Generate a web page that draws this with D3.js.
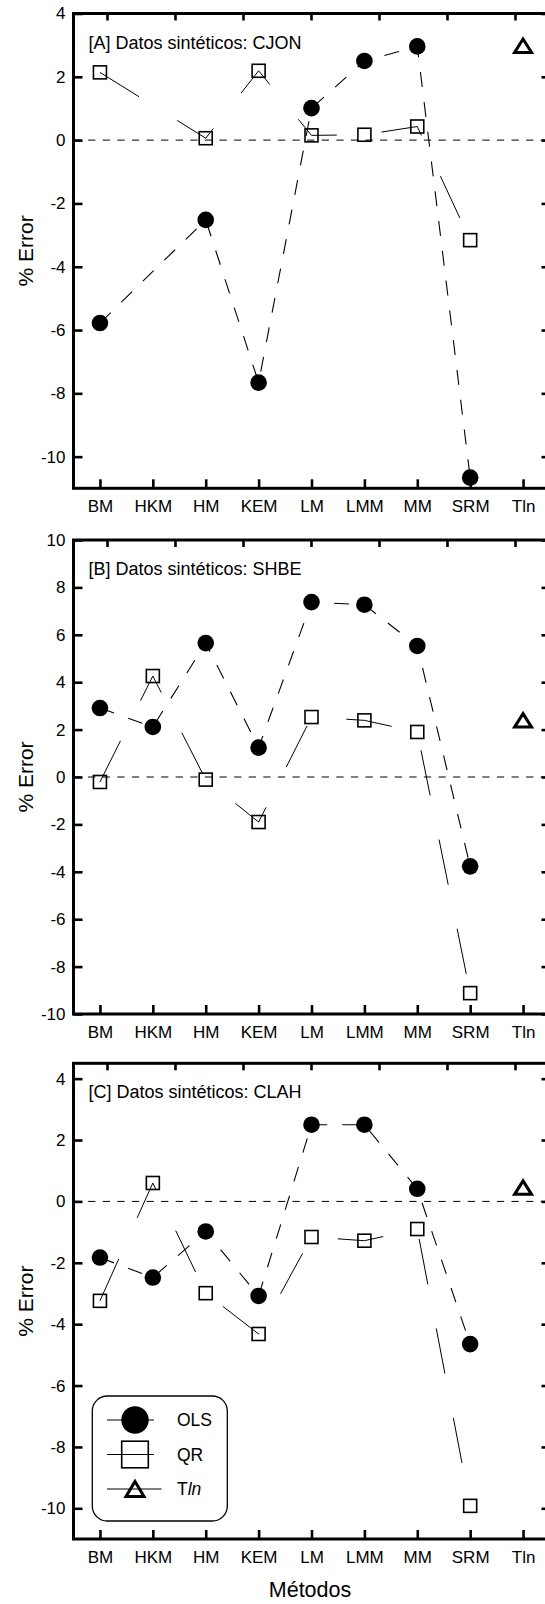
<!DOCTYPE html>
<html>
<head>
<meta charset="utf-8">
<script src="https://cdn.jsdelivr.net/npm/d3@7"></script>
<style>
  html, body { margin: 0; padding: 0; background: #fff; }
  svg { display: block; font-family: "Liberation Sans", Arial, sans-serif; }
</style>
</head>
<body>
<svg id="chart" width="545" height="1604"></svg>
<script>
// Methods on the horizontal axis
const metodos = ["BM", "HKM", "HM", "KEM", "LM", "LMM", "MM", "SRM", "Tln"];

// [A] CJON: % error per method
const olsA = [-5.78, null, -2.52, -7.66, 1.01, 2.50, 2.96, -10.66, null];
const qrA  = [2.14, null, 0.06, 2.19, 0.15, 0.17, 0.43, -3.16, null];
const tlnA = [null, null, null, null, null, null, null, null, 2.98];

// [B] SHBE
const olsB = [2.91, 2.11, 5.65, 1.24, 7.38, 7.27, 5.53, -3.77, null];
const qrB  = [-0.21, 4.26, -0.11, -1.90, 2.53, 2.39, 1.90, -9.12, null];
const tlnB = [null, null, null, null, null, null, null, null, 2.39];

// [C] CLAH
const olsC = [-1.83, -2.48, -0.98, -3.08, 2.50, 2.50, 0.41, -4.65, null];
const qrC  = [-3.24, 0.60, -2.99, -4.32, -1.16, -1.28, -0.90, -9.92, null];
const tlnC = [null, null, null, null, null, null, null, null, 0.45];

// Tick values for each panel's vertical axis
const ticksA = [-10, -8, -6, -4, -2, 0, 2, 4];
const ticksB = [-10, -8, -6, -4, -2, 0, 2, 4, 6, 8, 10];
const ticksC = [-10, -8, -6, -4, -2, 0, 2, 4];

const titles = ["[A] Datos sintéticos: CJON", "[B] Datos sintéticos: SHBE", "[C] Datos sintéticos: CLAH"];

const panels = [
  { title: titles[0], ols: olsA, qr: qrA, tln: tlnA, ticks: ticksA, domain: [-11, 4],   top: 13.5,  bottom: 488.3 },
  { title: titles[1], ols: olsB, qr: qrB, tln: tlnB, ticks: ticksB, domain: [-10, 10],  top: 540,   bottom: 1014 },
  { title: titles[2], ols: olsC, qr: qrC, tln: tlnC, ticks: ticksC, domain: [-11, 4.5], top: 1063.3, bottom: 1539 }
];

const svg = d3.select("#chart");
const left = 73.5, right = 549.5;

const x = d3.scalePoint().domain(metodos).range([left, right]).padding(0.5);
// secondary top scale: seven evenly spaced ticks
const xTop = d3.scaleBand().domain(d3.range(7)).range([left, right]);

const tickFont = 17;
const fmt = d => String(d);   // plain hyphen for negatives

panels.forEach(p => {
  const y = d3.scaleLinear().domain(p.domain).range([p.bottom, p.top]);
  const g = svg.append("g");

  // zero reference line
  g.append("line")
    .attr("x1", left).attr("x2", right)
    .attr("y1", y(0)).attr("y2", y(0))
    .attr("stroke", "#000").attr("stroke-width", 1)
    .attr("stroke-dasharray", "7.3,7.3");

  // left axis
  const ax = g.append("g").attr("transform", `translate(${left},0)`)
    .call(d3.axisLeft(y).tickValues(p.ticks).tickSizeInner(-9).tickSizeOuter(0).tickPadding(8).tickFormat(fmt));
  ax.select(".domain").remove();
  ax.selectAll(".tick line").attr("stroke-width", 2.6);
  ax.selectAll(".tick text").attr("font-size", tickFont).attr("font-family", null).attr("fill", "#000");

  // right axis (ticks pointing inward)
  const axR = g.append("g").attr("transform", `translate(${right},0)`)
    .call(d3.axisRight(y).tickValues(p.ticks).tickSizeInner(-8).tickSizeOuter(0).tickFormat(""));
  axR.select(".domain").remove();
  axR.selectAll(".tick line").attr("stroke-width", 2.6);

  // bottom axis
  const axB = g.append("g").attr("transform", `translate(0,${p.bottom})`)
    .call(d3.axisBottom(x).tickSizeInner(-9).tickSizeOuter(0).tickPadding(12));
  axB.select(".domain").remove();
  axB.selectAll(".tick line").attr("stroke-width", 2.6);
  axB.selectAll(".tick text").attr("font-size", tickFont).attr("font-family", null).attr("fill", "#000");

  // top axis
  const axT = g.append("g").attr("transform", `translate(0,${p.top})`)
    .call(d3.axisTop(xTop).tickSizeInner(-7).tickSizeOuter(0).tickFormat(""));
  axT.select(".domain").remove();
  axT.selectAll(".tick line").attr("stroke-width", 2.6);

  // frame
  g.append("rect")
    .attr("x", left).attr("y", p.top)
    .attr("width", right - left).attr("height", p.bottom - p.top)
    .attr("fill", "none").attr("stroke", "#000").attr("stroke-width", 3);

  // panel title
  g.append("text")
    .attr("x", left + 15).attr("y", p.top + 35)
    .attr("font-size", 18).text(p.title);

  const pts = arr => arr.map((v, i) => ({ m: metodos[i], v })).filter(d => d.v !== null);

  const line = d3.line().x(d => x(d.m)).y(d => y(d.v));

  // QR: thin long-dash line
  g.append("path").datum(pts(p.qr))
    .attr("d", line).attr("fill", "none").attr("stroke", "#000")
    .attr("stroke-width", 1).attr("stroke-dasharray", "46,45");

  // OLS: dashed line
  g.append("path").datum(pts(p.ols))
    .attr("d", line).attr("fill", "none").attr("stroke", "#000")
    .attr("stroke-width", 1.1).attr("stroke-dasharray", "15,15");

  // OLS markers
  g.selectAll(".ols").data(pts(p.ols)).join("circle")
    .attr("cx", d => x(d.m)).attr("cy", d => y(d.v)).attr("r", 8.3).attr("fill", "#000");

  // QR markers
  const s = 13;
  g.selectAll(".qr").data(pts(p.qr)).join("rect")
    .attr("x", d => x(d.m) - s / 2).attr("y", d => y(d.v) - s / 2)
    .attr("width", s).attr("height", s)
    .attr("fill", "none").attr("stroke", "#000").attr("stroke-width", 1.6);

  // Tln markers
  const tw = 17, th = 13.5;
  g.selectAll(".tln").data(pts(p.tln)).join("path")
    .attr("d", d => {
      const cx = x(d.m), cy = y(d.v);
      return `M${cx},${cy - th / 2}L${cx + tw / 2},${cy + th / 2}L${cx - tw / 2},${cy + th / 2}Z`;
    })
    .attr("fill", "none").attr("stroke", "#000").attr("stroke-width", 3).attr("stroke-linejoin", "miter");

  // vertical axis title
  svg.append("text")
    .attr("transform", `translate(33,${(p.top + p.bottom) / 2}) rotate(-90)`)
    .attr("text-anchor", "middle").attr("font-size", 21)
    .text("% Error");
});

// horizontal axis title
svg.append("text")
  .attr("x", 310).attr("y", 1597)
  .attr("text-anchor", "middle").attr("font-size", 21.5)
  .text("Métodos");

// legend
const lg = svg.append("g");
lg.append("rect")
  .attr("x", 92.3).attr("y", 1396).attr("width", 135).attr("height", 125)
  .attr("rx", 15).attr("ry", 15)
  .attr("fill", "#fff").attr("stroke", "#000").attr("stroke-width", 1.3);

const legendItems = ["OLS", "QR", "Tln"];
const ly = d3.scalePoint().domain(legendItems).range([1420, 1489]);
const lmx = 135;

legendItems.forEach(k => {
  const yy = ly(k);
  lg.append("line")
    .attr("x1", 107).attr("x2", k === "Tln" ? 161.6 : 154)
    .attr("y1", yy).attr("y2", yy)
    .attr("stroke", "#000").attr("stroke-width", 1);
  if (k === "OLS") {
    lg.append("circle").attr("cx", lmx).attr("cy", yy).attr("r", 13.7).attr("fill", "#000");
  } else if (k === "QR") {
    lg.append("rect").attr("x", lmx - 13.3).attr("y", yy - 13.3)
      .attr("width", 26.6).attr("height", 26.6)
      .attr("fill", "none").attr("stroke", "#000").attr("stroke-width", 1.6);
  } else {
    const w = 18, h = 15;
    lg.append("path")
      .attr("d", `M${lmx},${yy - h / 2}L${lmx + w / 2},${yy + h / 2}L${lmx - w / 2},${yy + h / 2}Z`)
      .attr("fill", "none").attr("stroke", "#000").attr("stroke-width", 3);
  }
  const t = lg.append("text").attr("x", 177).attr("y", yy).attr("dy", "0.36em").attr("font-size", 17.5);
  if (k === "Tln") {
    t.append("tspan").text("T");
    t.append("tspan").attr("font-style", "italic").text("ln");
  } else {
    t.text(k);
  }
});
</script>
</body>
</html>
